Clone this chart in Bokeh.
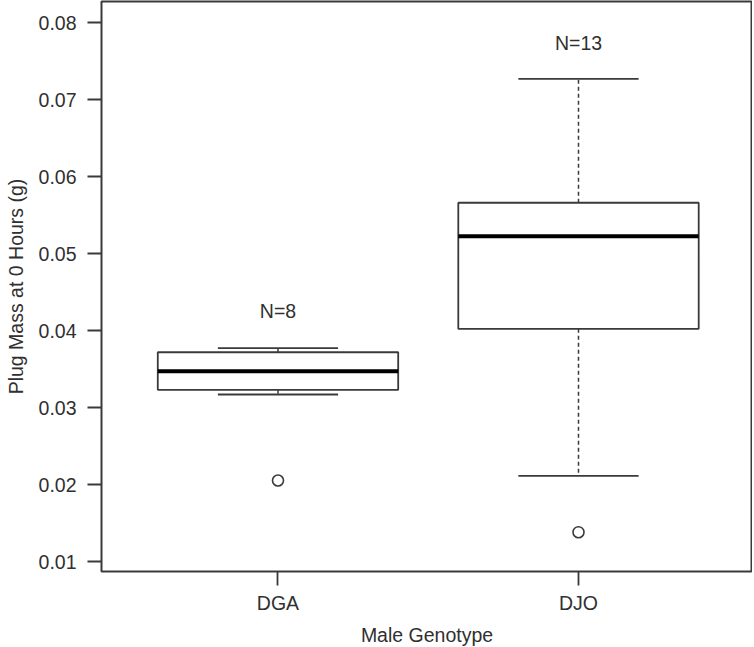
from bokeh.plotting import figure
from bokeh.models import Range1d, FixedTicker, ColumnDataSource
from bokeh.embed import file_html
from bokeh.resources import INLINE
from bokeh.core.properties import value

# ---- data ----
genotypes = ["DGA", "DJO"]
n_counts = [8, 13]
lower_whisker = [0.03171, 0.02116]
q1 = [0.03232, 0.04024]
median = [0.03474, 0.05226]
q3 = [0.03720, 0.05660]
upper_whisker = [0.03772, 0.07269]
outlier_group = ["DGA", "DJO"]
outlier_value = [0.02055, 0.01384]
n_label_y = [0.0426, 0.0774]
y_ticks = [0.01, 0.02, 0.03, 0.04, 0.05, 0.06, 0.07, 0.08]

FONT = "Liberation Sans"
FS = "19.5px"
LINE = "#3a3a3a"
TEXT = "#303030"

xpos = [i + 1 for i in range(len(genotypes))]
half_box = 0.4
half_cap = 0.2

box_src = ColumnDataSource(dict(
    x=xpos,
    left=[x - half_box for x in xpos],
    right=[x + half_box for x in xpos],
    capl=[x - half_cap for x in xpos],
    capr=[x + half_cap for x in xpos],
    lw=lower_whisker, q1=q1, med=median, q3=q3, uw=upper_whisker,
    label=[f"N={n}" for n in n_counts], ly=n_label_y,
))
out_src = ColumnDataSource(dict(
    x=[genotypes.index(g) + 1 for g in outlier_group],
    y=outlier_value,
))

p = figure(frame_width=651, frame_height=570,
           x_range=Range1d(0.4127, 2.579),
           y_range=Range1d(0.008738, 0.082726),
           output_backend="svg", toolbar_location=None,
           min_border_left=101, min_border_right=0,
           min_border_top=1, min_border_bottom=74)

p.background_fill_color = "white"
p.border_fill_color = "white"
p.xgrid.visible = False
p.ygrid.visible = False
p.outline_line_color = LINE
p.outline_line_width = 2

# whiskers (dashed)
p.segment(x0="x", y0="q3", x1="x", y1="uw", source=box_src,
          line_color=LINE, line_width=1.5, line_dash="4 3")
p.segment(x0="x", y0="q1", x1="x", y1="lw", source=box_src,
          line_color=LINE, line_width=1.5, line_dash="4 3")
# caps
p.segment(x0="capl", y0="uw", x1="capr", y1="uw", source=box_src,
          line_color=LINE, line_width=1.8)
p.segment(x0="capl", y0="lw", x1="capr", y1="lw", source=box_src,
          line_color=LINE, line_width=1.8)
# boxes
p.quad(left="left", right="right", bottom="q1", top="q3", source=box_src,
       fill_color="white", line_color=LINE, line_width=1.8)
# medians
p.segment(x0="left", y0="med", x1="right", y1="med", source=box_src,
          line_color="black", line_width=4)
# outliers
p.scatter(x="x", y="y", source=out_src, marker="circle", size=11,
          fill_color="white", line_color=LINE, line_width=1.6)
# N labels
p.text(x="x", y="ly", text="label", source=box_src,
       text_font=value(FONT), text_font_size=FS, text_color=TEXT,
       text_align="center", text_baseline="middle")

# axes
xa = p.xaxis[0]
xa.ticker = FixedTicker(ticks=xpos)
xa.major_label_overrides = {x: g for x, g in zip(xpos, genotypes)}
xa.axis_label = "Male Genotype"
ya = p.yaxis[0]
ya.ticker = FixedTicker(ticks=y_ticks)
ya.major_label_overrides = {t: f"{t:.2f}" for t in y_ticks}
ya.axis_label = "Plug Mass at 0 Hours (g)"

for ax in (xa, ya):
    ax.axis_line_color = None
    ax.major_tick_line_color = LINE
    ax.major_tick_line_width = 1.8
    ax.major_tick_in = 0
    ax.major_tick_out = 14
    ax.minor_tick_line_color = None
    ax.major_label_text_font = FONT
    ax.major_label_text_font_size = FS
    ax.major_label_text_color = TEXT
    ax.axis_label_text_font = FONT
    ax.axis_label_text_font_size = FS
    ax.axis_label_text_font_style = "normal"
    ax.axis_label_text_color = TEXT

xa.major_label_standoff = 6
xa.axis_label_standoff = 7
ya.major_label_standoff = 11
ya.axis_label_standoff = 9

open("out.html", "w").write(file_html(p, INLINE))
